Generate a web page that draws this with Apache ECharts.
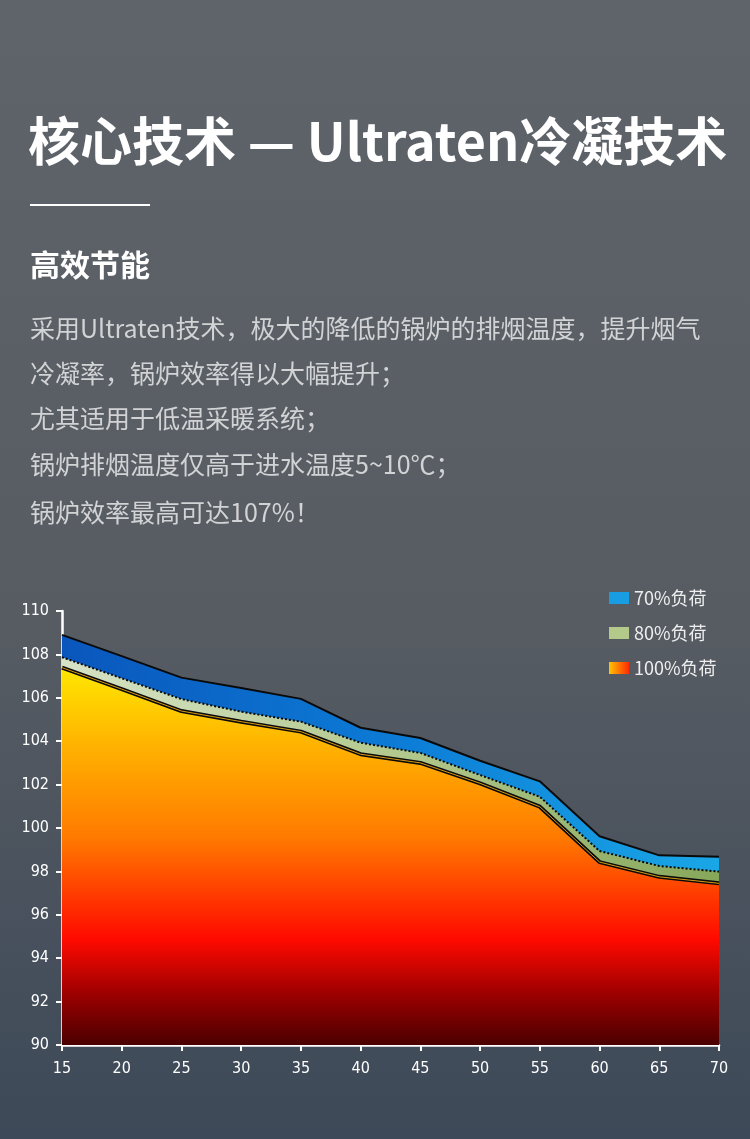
<!DOCTYPE html>
<html>
<head>
<meta charset="utf-8">
<title>Ultraten冷凝技术</title>
<script src="https://cdn.jsdelivr.net/npm/echarts@6/dist/echarts.min.js"></script>
<style>
	html, body { margin: 0; padding: 0; background: #555b63; }
	#chart { width: 750px; height: 1139px; }
</style>
</head>
<body>
<div id="chart"></div>
<script>
// return water temperature (°C) on the x axis
const waterTemp = [15, 20, 25, 30, 35, 40, 45, 50, 55, 60, 65, 70];
// boiler efficiency (%) per load
const eff70 = [108.9, 107.92, 106.93, 106.45, 105.95, 104.62, 104.15, 103.1, 102.15, 99.62, 98.74, 98.67];
const eff80 = [107.87, 106.9, 105.94, 105.36, 104.9, 103.93, 103.46, 102.44, 101.44, 98.94, 98.25, 97.99];
const eff100 = [107.39, 106.4, 105.39, 104.9, 104.44, 103.4, 103.0, 102.06, 100.98, 98.43, 97.75, 97.45];
const seriesNames = ["70%负荷", "80%负荷", "100%负荷"];

const titleText = "核心技术 — Ultraten冷凝技术";
const subTitle = "高效节能";
const bodyLines = [
	"采用Ultraten技术，极大的降低的锅炉的排烟温度，提升烟气",
	"冷凝率，锅炉效率得以大幅提升；",
	"尤其适用于低温采暖系统；",
	"锅炉排烟温度仅高于进水温度5~10℃；",
	"锅炉效率最高可达107%！",
];

const cjkFont = "'Noto Sans CJK SC', 'Noto Sans', sans-serif";
const axisFont = "'Liberation Sans Narrow', 'DejaVu Sans Condensed', 'Noto Sans', sans-serif";

function pairs(ys) {
	return waterTemp.map((x, i) => [x, ys[i]]);
}

function grad(x2, y2, stops) {
	return new echarts.graphic.LinearGradient(0, 0, x2, y2,
		stops.map(([offset, color]) => ({ offset, color })));
}

const blueFill = grad(1, 0, [[0, "#0a56bc"], [0.5, "#0c7bd6"], [1, "#1aa7e6"]]);
const greenFill = grad(1, 0, [[0, "#d6e3c6"], [0.5, "#b4c98e"], [1, "#86a75a"]]);
const fireFill = grad(0, 1, [
	[0, "#ffe800"], [0.2, "#ffb400"], [0.45, "#ff7a00"],
	[0.72, "#ff0a00"], [0.86, "#a00000"], [1, "#4a0000"],
]);

const bodyTops = [316, 361, 406, 452, 500];

function createChart(domId) {
	const chartDom = document.getElementById(domId);
	if (chartDom == null) return;
	const myChart = echarts.init(chartDom);

	const graphics = [
		{
			type: "text", left: 28, top: 115,
			style: { text: titleText, fill: "#ffffff", font: "bold 52px " + cjkFont },
		},
		{ type: "rect", shape: { x: 30, y: 204, width: 120, height: 2 }, style: { fill: "#ffffff" } },
		{
			type: "text", left: 30, top: 250,
			style: { text: subTitle, fill: "#ffffff", font: "bold 30px " + cjkFont },
		},
	];
	bodyLines.forEach((line, i) => {
		graphics.push({
			type: "text", left: 30, top: bodyTops[i],
			style: { text: line, fill: "#d2d3d5", font: "25px " + cjkFont },
		});
	});

	const option = {
		animation: false,
		backgroundColor: grad(0, 1, [[0, "#5f646b"], [0.55, "#575c63"], [1, "#3d4958"]]),
		graphic: graphics,
		legend: {
			orient: "vertical",
			left: 604,
			top: 581,
			icon: "rect",
			itemWidth: 20,
			itemHeight: 12,
			itemGap: 11,
			textStyle: { color: "#eeeeee", fontSize: 18, lineHeight: 24, fontFamily: cjkFont },
			data: [
				{ name: seriesNames[0], itemStyle: { color: "#189ce2", borderWidth: 0 } },
				{ name: seriesNames[1], itemStyle: { color: "#b3ca8b", borderWidth: 0 } },
				{
					name: seriesNames[2],
					itemStyle: { color: grad(1, 0, [[0, "#ffc400"], [1, "#ff2a00"]]), borderWidth: 0 },
				},
			],
		},
		grid: { left: 62, right: 31, top: 611, bottom: 94 },
		xAxis: {
			type: "value",
			min: 15,
			max: 70,
			interval: 5,
			axisLine: { show: true, lineStyle: { color: "#ffffff", width: 2.5 } },
			axisTick: { show: true, length: 6, lineStyle: { color: "#ffffff", width: 2 } },
			axisLabel: { color: "#ffffff", fontSize: 16, fontFamily: axisFont, margin: 16 },
			splitLine: { show: false },
		},
		yAxis: {
			type: "value",
			min: 90,
			max: 110,
			interval: 2,
			axisLine: { show: true, lineStyle: { color: "#ffffff", width: 2.5 } },
			axisTick: { show: true, length: 6, lineStyle: { color: "#ffffff", width: 2 } },
			axisLabel: { color: "#ffffff", fontSize: 16, fontFamily: axisFont, margin: 13 },
			splitLine: { show: false },
		},
		series: [
			{
				name: seriesNames[0],
				type: "line",
				data: pairs(eff70),
				symbol: "none",
				z: 2,
				lineStyle: { color: "#0a0a0a", width: 2 },
				itemStyle: { color: "#189ce2" },
				areaStyle: { color: blueFill, opacity: 1 },
			},
			{
				name: seriesNames[1],
				type: "line",
				data: pairs(eff80),
				symbol: "none",
				z: 3,
				lineStyle: { color: "#0a0a0a", width: 2, type: "dotted" },
				itemStyle: { color: "#b3ca8b" },
				areaStyle: { color: greenFill, opacity: 1 },
			},
			{
				name: seriesNames[2],
				type: "line",
				data: pairs(eff100),
				symbol: "none",
				z: 4,
				lineStyle: { color: "#0a0a0a", width: 4 },
				itemStyle: { color: "#ff8000" },
				areaStyle: { color: fireFill, opacity: 1 },
			},
			{
				// thin amber core of the double outline on the 100% curve
				name: "",
				type: "line",
				data: pairs(eff100),
				symbol: "none",
				silent: true,
				z: 5,
				lineStyle: { color: "#d89a10", width: 1 },
			},
		],
	};
	myChart.setOption(option);
	return myChart;
}

createChart("chart");
</script>
</body>
</html>
